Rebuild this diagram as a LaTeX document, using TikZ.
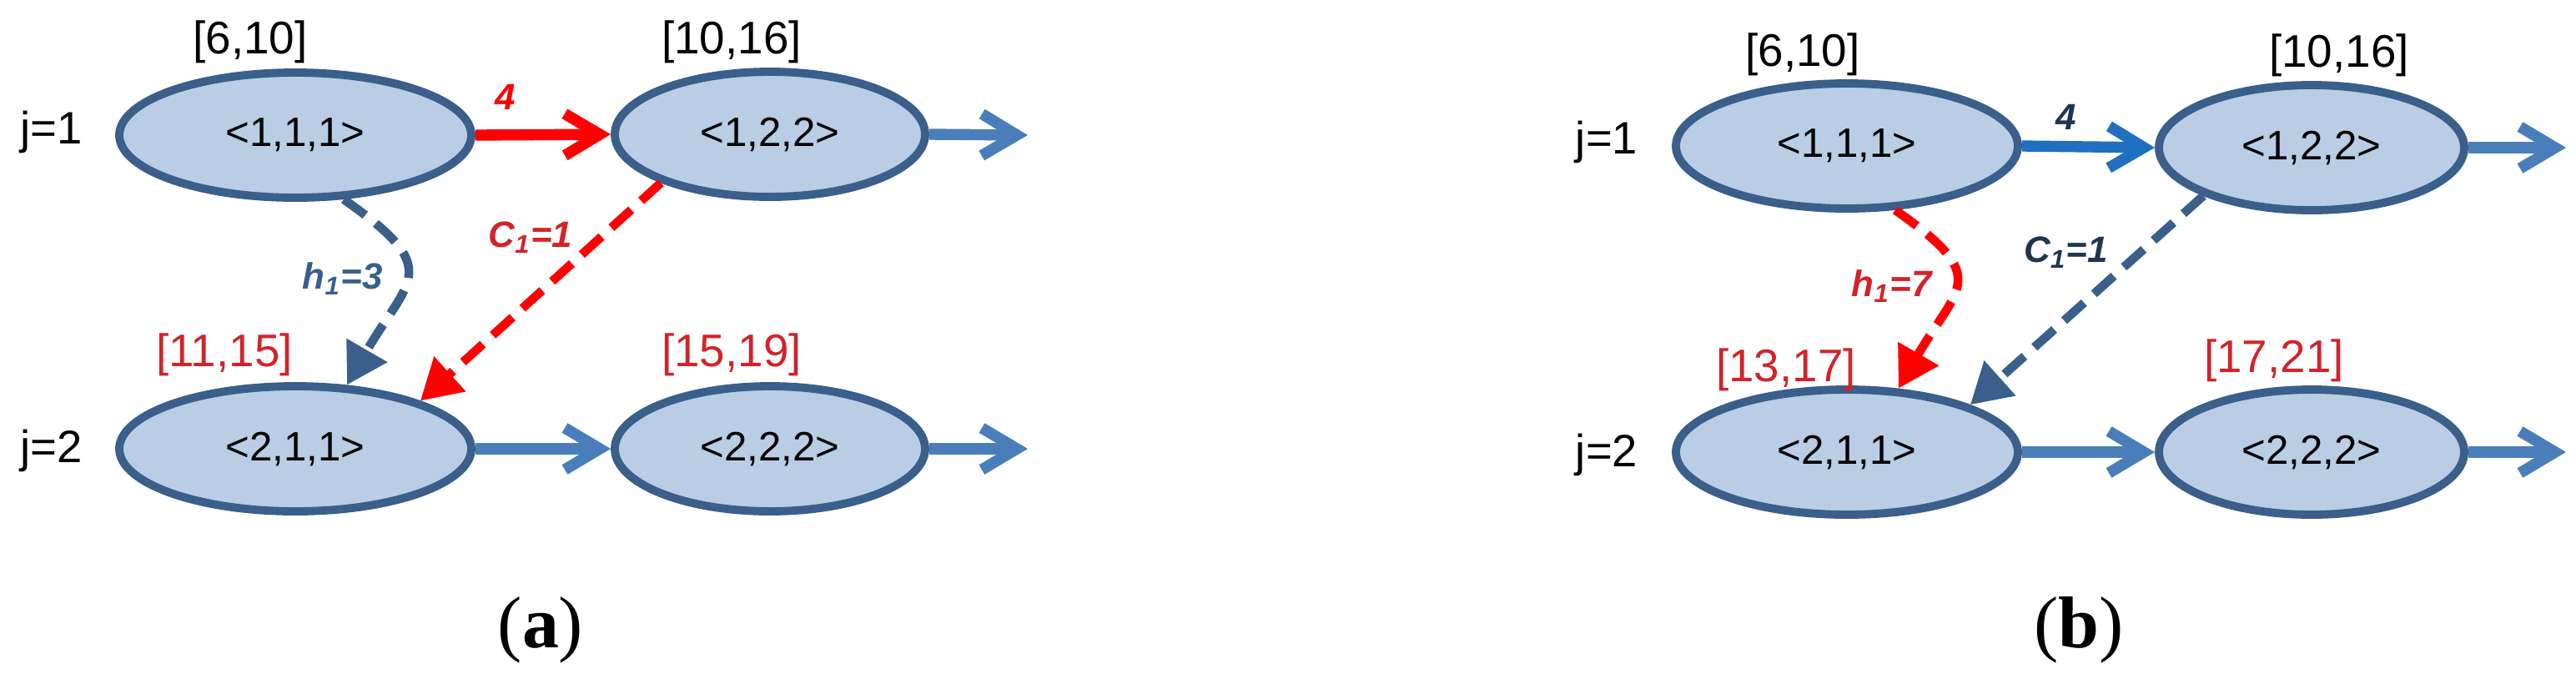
\documentclass[tikz,border=0pt]{standalone}
\usepackage{fontspec}
\setmainfont{Liberation Sans}
\newfontfamily\capfont{Liberation Serif}
\usetikzlibrary{arrows.meta,shapes.geometric}

\definecolor{nodefill}{HTML}{B9CDE5}
\definecolor{nodeline}{HTML}{3A5F8B}
\definecolor{flowblue}{HTML}{4A7EBB}
\definecolor{brightblue}{HTML}{1F70C1}
\definecolor{hotred}{HTML}{FF0000}
\definecolor{labred}{HTML}{D2232A}
\definecolor{navy}{HTML}{1F3550}

\tikzset{
  state/.style={ellipse, draw=nodeline, fill=nodefill, line width=2.8pt,
    minimum height=1.5cm, inner sep=0pt, font=\fontsize{14}{16}\selectfont},
  flow/.style={line width=3.8pt, draw=flowblue,
    -{Straight Barb[length=4.2mm,width=5mm]}},
  hop/.style={line width=3pt, dash pattern=on 3.2mm off 1.6mm,
    -{Triangle[length=4.8mm,width=5.4mm]}},
  interval/.style={font=\fontsize{15.6}{18}\selectfont, inner sep=0pt},
  rowlbl/.style={font=\fontsize{15.5}{18}\selectfont, inner sep=0pt},
  edgelbl/.style={font=\fontsize{12.5}{15}\selectfont\bfseries\itshape, inner sep=1pt},
  subcap/.style={font=\fontsize{25}{30}\selectfont\capfont}
}

\begin{document}
\begin{tikzpicture}
  \useasboundingbox (0,0) rectangle (30.88,-8.13);

  % (a)
  \node[state, minimum width=4.22cm] (a11) at (3.54,-1.62) {<1,1,1>};
  \node[state, minimum width=3.72cm] (a12) at (9.23,-1.61) {<1,2,2>};
  \node[state, minimum width=4.22cm] (a21) at (3.54,-5.38) {<2,1,1>};
  \node[state, minimum width=3.72cm] (a22) at (9.23,-5.38) {<2,2,2>};
  \node[rowlbl] (aj1) at (0.62,-1.58) {j=1};
  \node[rowlbl] (aj2) at (0.62,-5.40) {j=2};
  \node[interval] (ai11) at (3.00,-0.50) {[6,10]};
  \node[interval] (ai12) at (8.77,-0.50) {[10,16]};
  \node[interval, text=labred] (ai21) at (2.69,-4.25) {[11,15]};
  \node[interval, text=labred] (ai22) at (8.77,-4.25) {[15,19]};
  \coordinate (aout1) at (12.32,-1.62);
  \coordinate (aout2) at (12.32,-5.38);

  \draw[flow, draw=hotred] (a11.east) -- node[edgelbl, text=hotred, pos=.22, above=2mm] {4} (a12.west);
  \draw[flow] (a12.east) -- (aout1);
  \draw[flow] (a21.east) -- (a22.west);
  \draw[flow] (a22.east) -- (aout2);
  \draw[hop, draw=nodeline] (a11.-53) to[out=-35,in=60,looseness=1.7]
    node[edgelbl, text=nodeline, pos=.5, left=2mm] {h\textsubscript{1}=3} (a21.51);
  \draw[hop, draw=hotred] (a12.-156) --
    node[edgelbl, text=labred, pos=.25, left=2.5mm] {C\textsubscript{1}=1} (a21.21);

  \node[subcap] (capa) at (6.48,-7.55) {(\textbf{a})};

  % (b)
  \node[state, minimum width=4.1cm] (b11) at (22.14,-1.75) {<1,1,1>};
  \node[state, minimum width=3.66cm] (b12) at (27.71,-1.77) {<1,2,2>};
  \node[state, minimum width=4.1cm] (b21) at (22.14,-5.42) {<2,1,1>};
  \node[state, minimum width=3.66cm] (b22) at (27.71,-5.42) {<2,2,2>};
  \node[rowlbl] (bj1) at (19.26,-1.70) {j=1};
  \node[rowlbl] (bj2) at (19.26,-5.45) {j=2};
  \node[interval] (bi11) at (21.61,-0.65) {[6,10]};
  \node[interval] (bi12) at (28.04,-0.66) {[10,16]};
  \node[interval, text=labred] (bi21) at (21.41,-4.43) {[13,17]};
  \node[interval, text=labred] (bi22) at (27.26,-4.32) {[17,21]};
  \coordinate (bout1) at (30.76,-1.77);
  \coordinate (bout2) at (30.76,-5.42);

  \draw[flow, draw=brightblue] (b11.east) -- node[edgelbl, text=navy, pos=.33, above=1mm] {4} (b12.west);
  \draw[flow] (b12.east) -- (bout1);
  \draw[flow] (b21.east) -- (b22.west);
  \draw[flow] (b22.east) -- (bout2);
  \draw[hop, draw=hotred] (b11.-53) to[out=-35,in=60,looseness=1.7]
    node[edgelbl, text=labred, pos=.5, left=2mm] {h\textsubscript{1}=7} (b21.51);
  \draw[hop, draw=nodeline] (b12.-156) --
    node[edgelbl, text=navy, pos=.27, left=3mm] {C\textsubscript{1}=1} (b21.21);

  \node[subcap] (capb) at (24.92,-7.55) {(\textbf{b})};
\end{tikzpicture}
\end{document}
